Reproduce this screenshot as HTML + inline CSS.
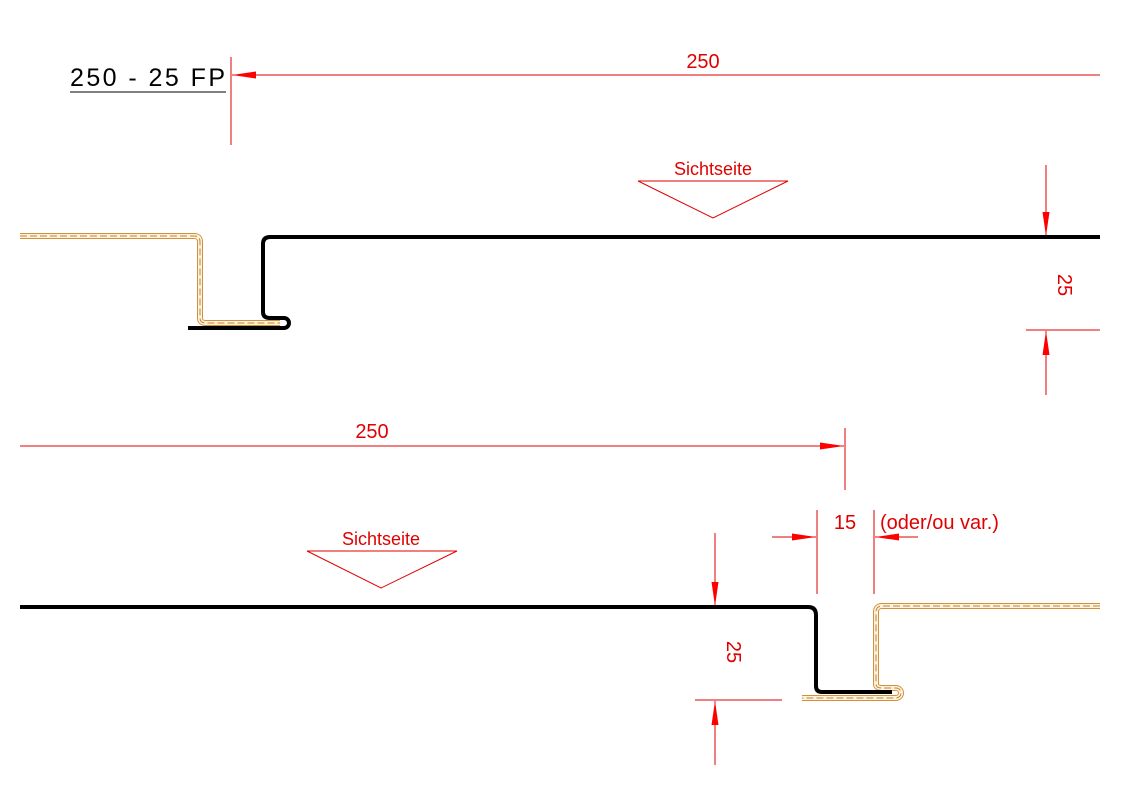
<!DOCTYPE html><html><head><style>body{margin:0;background:#fff}svg{display:block}text{font-family:"Liberation Sans",sans-serif;fill:#e00000}</style></head><body>
<svg width="1122" height="794" viewBox="0 0 1122 794" xmlns="http://www.w3.org/2000/svg">
<defs><marker id="a" viewBox="0 0 24 10" refX="24" refY="5" markerWidth="24" markerHeight="10" markerUnits="userSpaceOnUse" orient="auto"><path d="M0 1.5 L24 5 L0 8.5 Z" fill="#ff0000"/></marker></defs>
<g stroke="#e00000" stroke-width="1" fill="none">
<line x1="231" y1="57" x2="231" y2="145"/>
<line x1="1100" y1="75" x2="232" y2="75" marker-end="url(#a)"/>
<line x1="70" y1="92" x2="226" y2="92" stroke="#000"/>
<polyline points="638,181 788,181 713,218 638,181"/>
<line x1="1046" y1="165" x2="1046" y2="236" marker-end="url(#a)"/>
<line x1="1026" y1="330" x2="1100" y2="330"/>
<line x1="1046" y1="395" x2="1046" y2="331" marker-end="url(#a)"/>
<line x1="20" y1="446" x2="844" y2="446" marker-end="url(#a)"/>
<line x1="845" y1="428" x2="845" y2="490"/>
<polyline points="307,551 457,551 381,588 307,551"/>
<line x1="817" y1="510" x2="817" y2="594"/>
<line x1="874" y1="510" x2="874" y2="594"/>
<line x1="772" y1="537" x2="816" y2="537" marker-end="url(#a)"/>
<line x1="918" y1="537" x2="875" y2="537" marker-end="url(#a)"/>
<line x1="715" y1="533" x2="715" y2="606" marker-end="url(#a)"/>
<line x1="695" y1="700" x2="782" y2="700"/>
<line x1="715" y1="765" x2="715" y2="701" marker-end="url(#a)"/>
</g>
<g fill="none">
<path d="M20 236 H194 Q200 236 200 242 V318 Q200 323 206 323 H280" stroke="#d09040" stroke-width="6"/>
<path d="M20 236 H194 Q200 236 200 242 V318 Q200 323 206 323 H280" stroke="#fff3d8" stroke-width="4"/>
<path d="M20 236 H194 Q200 236 200 242 V318 Q200 323 206 323 H280" stroke="#c08040" stroke-width="1" stroke-dasharray="7 3"/>
<path d="M1100 606 H882 Q876 606 876 612 V684 Q876 688 882 688 H896 A5 5 0 0 1 896 698 H802" stroke="#d09040" stroke-width="6"/>
<path d="M1100 606 H882 Q876 606 876 612 V684 Q876 688 882 688 H896 A5 5 0 0 1 896 698 H802" stroke="#fff3d8" stroke-width="4"/>
<path d="M1100 606 H882 Q876 606 876 612 V684 Q876 688 882 688 H896 A5 5 0 0 1 896 698 H802" stroke="#c08040" stroke-width="1" stroke-dasharray="7 3"/>
<path d="M1100 237 H270 Q263 237 263 244 V312 Q263 318 270 318 H284 A5 5 0 0 1 284 328 H188" stroke="#000" stroke-width="4"/>
<path d="M20 607 H808 Q816 607 816 615 V686 Q816 692 822 692 H892" stroke="#000" stroke-width="4"/>
</g>
<text x="70" y="86" font-size="25" textLength="155" lengthAdjust="spacing" style="fill:#000">250 - 25 FP</text>
<text x="703" y="68" font-size="20" text-anchor="middle">250</text>
<text x="713" y="175" font-size="18" text-anchor="middle">Sichtseite</text>
<text x="1058" y="285" font-size="20" text-anchor="middle" transform="rotate(90 1058 285)">25</text>
<text x="372" y="438" font-size="20" text-anchor="middle">250</text>
<text x="381" y="545" font-size="18" text-anchor="middle">Sichtseite</text>
<text x="845" y="529" font-size="20" text-anchor="middle">15</text>
<text x="880" y="529" font-size="20">(oder/ou var.)</text>
<text x="727" y="652" font-size="20" text-anchor="middle" transform="rotate(90 727 652)">25</text>
</svg></body></html>
